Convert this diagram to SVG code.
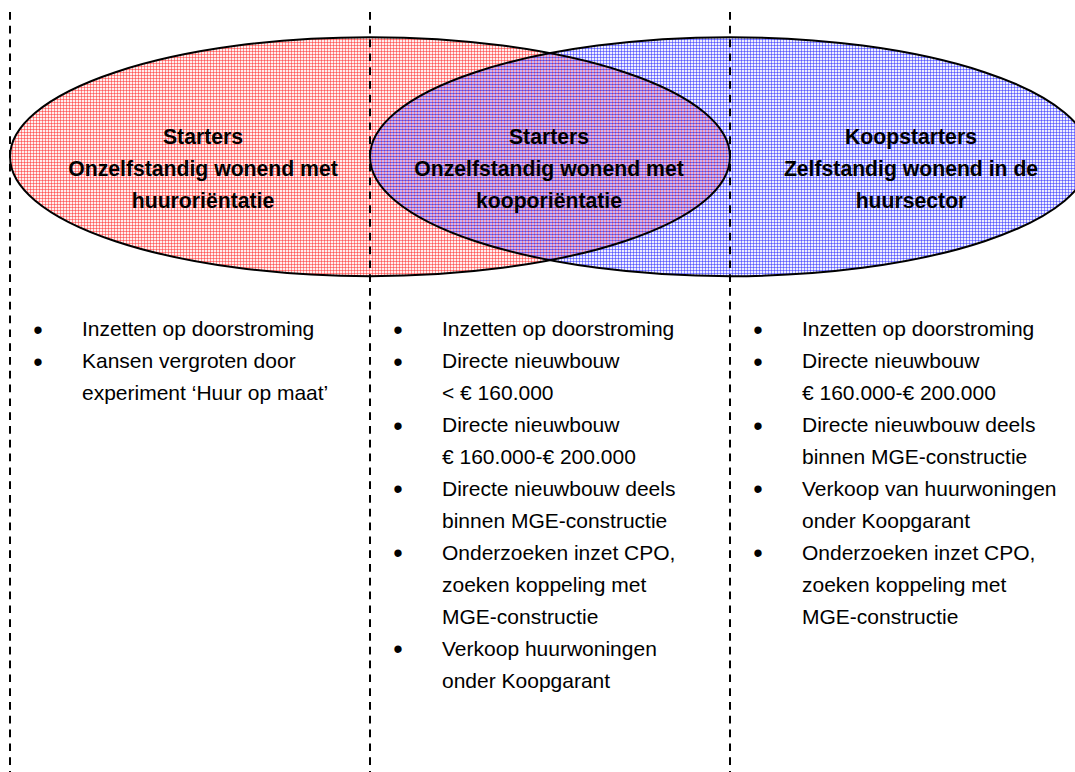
<svg xmlns="http://www.w3.org/2000/svg" width="1075" height="772" viewBox="0 0 1075 772">
  <style>
    .title { font-family: "Liberation Sans", Arial, sans-serif; font-size: 21.2px; font-weight: bold; fill: #000; text-anchor: middle; }
    .body { font-family: "Liberation Sans", Arial, sans-serif; font-size: 21px; fill: #000; }
    .bul { font-family: "Liberation Sans", Arial, sans-serif; font-size: 27px; fill: #000; text-anchor: middle; }
    .outline { fill: none; stroke: #000; stroke-width: 2; }
    .divider { stroke: #000; stroke-width: 2; stroke-dasharray: 7.7 6.1; fill: none; }
  </style>
  <defs>
    <pattern id="pRed" x="0" y="0" width="3" height="3" patternUnits="userSpaceOnUse">
      <rect width="3" height="3" fill="#ffeeee"/>
      <rect width="3" height="1" fill="#ff8c8c"/>
      <rect width="1" height="3" fill="#ff8c8c"/>
      <rect width="1" height="1" fill="#ff5a5a"/>
    </pattern>
    <pattern id="pBlue" x="0" y="0" width="3" height="3" patternUnits="userSpaceOnUse">
      <rect width="3" height="3" fill="#eeeeff"/>
      <rect width="3" height="1" fill="#8c8cff"/>
      <rect width="1" height="3" fill="#8c8cff"/>
      <rect width="1" height="1" fill="#5a5aff"/>
    </pattern>
    <pattern id="pPurple" x="0" y="0" width="3" height="3" patternUnits="userSpaceOnUse">
      <rect width="3" height="3" fill="#ccb4f2"/>
      <rect width="3" height="1" fill="#7466f0"/>
      <rect width="1" height="3" fill="#ee7896"/>
      <rect width="1" height="1" fill="#8040b0"/>
    </pattern>
    <clipPath id="clipBlue">
      <ellipse cx="730" cy="156.7" rx="360" ry="119.5"/>
    </clipPath>
  </defs>

  <g id="set-huur">
    <ellipse cx="370" cy="156.7" rx="360" ry="119.5" fill="url(#pRed)"/>
  </g>
  <g id="set-koop">
    <ellipse cx="730" cy="156.7" rx="360" ry="119.5" fill="url(#pBlue)"/>
  </g>
  <g id="set-overlap">
    <ellipse cx="370" cy="156.7" rx="360" ry="119.5" fill="url(#pPurple)" clip-path="url(#clipBlue)"/>
  </g>
  <g id="outlines">
    <ellipse class="outline" cx="370" cy="156.7" rx="360" ry="119.5"/>
    <ellipse class="outline" cx="730" cy="156.7" rx="360" ry="119.5"/>
  </g>

  <g id="connectors">
    <line class="divider" x1="10" y1="12" x2="10" y2="772"/>
    <line class="divider" x1="370" y1="12" x2="370" y2="772"/>
    <line class="divider" x1="730" y1="12" x2="730" y2="772"/>
  </g>

  <g id="title-1">
    <text class="title" x="203" y="144">Starters</text>
    <text class="title" x="203" y="176">Onzelfstandig wonend met</text>
    <text class="title" x="203" y="208">huuroriëntatie</text>
  </g>
  <g id="title-2">
    <text class="title" x="549" y="144">Starters</text>
    <text class="title" x="549" y="176">Onzelfstandig wonend met</text>
    <text class="title" x="549" y="208">kooporiëntatie</text>
  </g>
  <g id="title-3">
    <text class="title" x="911" y="144">Koopstarters</text>
    <text class="title" x="911" y="176">Zelfstandig wonend in de</text>
    <text class="title" x="911" y="208">huursector</text>
  </g>

  <g id="list-1">
    <text class="bul" x="38" y="338.5">•</text>
    <text class="body" x="82" y="336">Inzetten op doorstroming</text>
    <text class="bul" x="38" y="370.5">•</text>
    <text class="body" x="82" y="368">Kansen vergroten door</text>
    <text class="body" x="82" y="400">experiment ‘Huur op maat’</text>
  </g>

  <g id="list-2">
    <text class="bul" x="398" y="338.5">•</text>
    <text class="body" x="442" y="336">Inzetten op doorstroming</text>
    <text class="bul" x="398" y="370.5">•</text>
    <text class="body" x="442" y="368">Directe nieuwbouw</text>
    <text class="body" x="442" y="400">&lt; € 160.000</text>
    <text class="bul" x="398" y="434.5">•</text>
    <text class="body" x="442" y="432">Directe nieuwbouw</text>
    <text class="body" x="442" y="463.5">€ 160.000-€ 200.000</text>
    <text class="bul" x="398" y="498">•</text>
    <text class="body" x="442" y="495.5">Directe nieuwbouw deels</text>
    <text class="body" x="442" y="527.5">binnen MGE-constructie</text>
    <text class="bul" x="398" y="562">•</text>
    <text class="body" x="442" y="559.5">Onderzoeken inzet CPO,</text>
    <text class="body" x="442" y="591.5">zoeken koppeling met</text>
    <text class="body" x="442" y="623.5">MGE-constructie</text>
    <text class="bul" x="398" y="658">•</text>
    <text class="body" x="442" y="655.5">Verkoop huurwoningen</text>
    <text class="body" x="442" y="687.5">onder Koopgarant</text>
  </g>

  <g id="list-3">
    <text class="bul" x="758" y="338.5">•</text>
    <text class="body" x="802" y="336">Inzetten op doorstroming</text>
    <text class="bul" x="758" y="370.5">•</text>
    <text class="body" x="802" y="368">Directe nieuwbouw</text>
    <text class="body" x="802" y="400">€ 160.000-€ 200.000</text>
    <text class="bul" x="758" y="434.5">•</text>
    <text class="body" x="802" y="432">Directe nieuwbouw deels</text>
    <text class="body" x="802" y="463.5">binnen MGE-constructie</text>
    <text class="bul" x="758" y="498">•</text>
    <text class="body" x="802" y="495.5">Verkoop van huurwoningen</text>
    <text class="body" x="802" y="527.5">onder Koopgarant</text>
    <text class="bul" x="758" y="562">•</text>
    <text class="body" x="802" y="559.5">Onderzoeken inzet CPO,</text>
    <text class="body" x="802" y="591.5">zoeken koppeling met</text>
    <text class="body" x="802" y="623.5">MGE-constructie</text>
  </g>
</svg>
